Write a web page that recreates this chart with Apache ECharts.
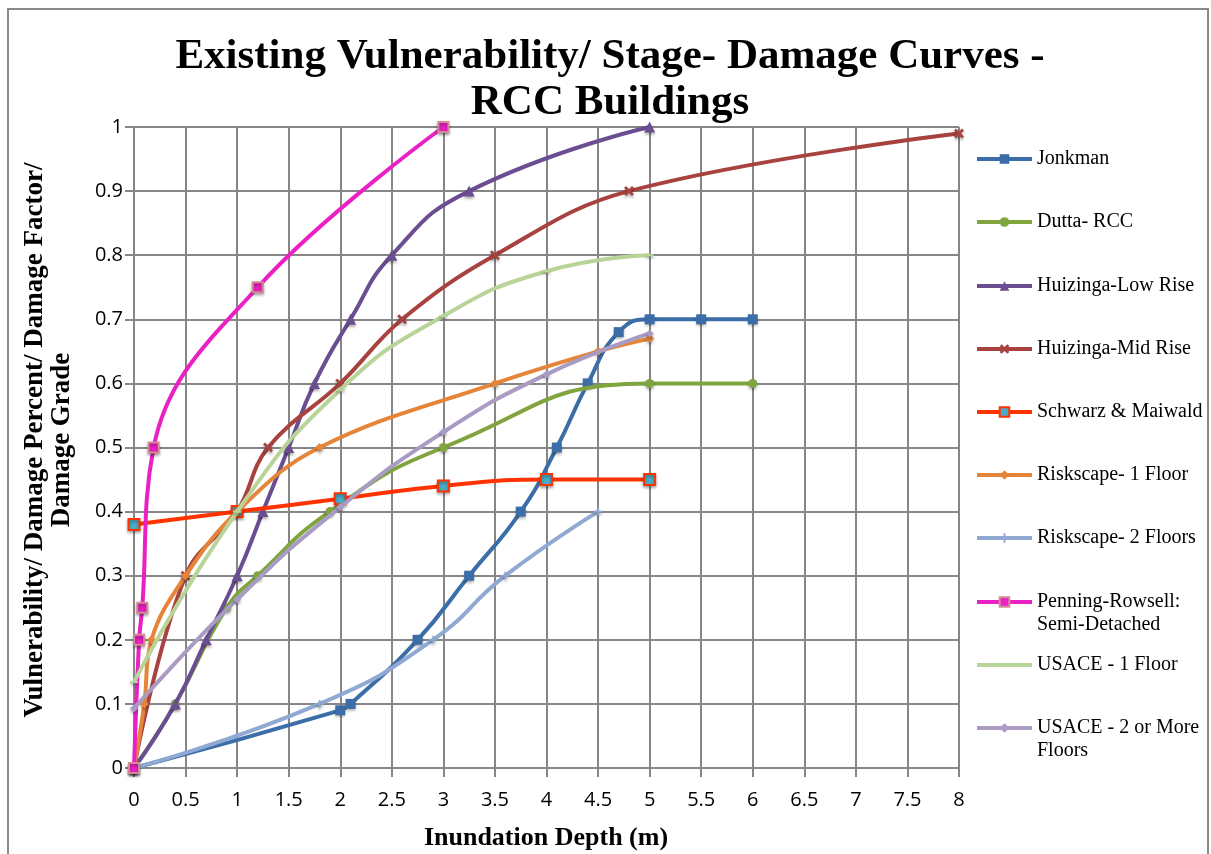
<!DOCTYPE html>
<html>
<head>
<meta charset="utf-8">
<script src="https://cdn.jsdelivr.net/npm/echarts@6/dist/echarts.min.js"></script>
<style>html,body{margin:0;padding:0;background:#fff;}#c{width:1211px;height:854px;}</style>
</head>
<body>
<div id="c"></div>
<script>
// ---- Data (x = inundation depth m, y = damage factor) ----
var seriesNames = ['Jonkman','Dutta- RCC','Huizinga-Low Rise','Huizinga-Mid Rise','Schwarz & Maiwald','Riskscape- 1 Floor','Riskscape- 2 Floors','Penning-Rowsell: Semi-Detached','USACE - 1 Floor','USACE - 2 or More Floors'];
var jonkman = [[0,0],[2,0.09],[2.1,0.1],[2.75,0.2],[3.25,0.3],[3.75,0.4],[4.1,0.5],[4.4,0.6],[4.7,0.68],[5,0.7],[5.5,0.7],[6,0.7]];
var duttaRCC = [[0,0],[0.4,0.1],[0.9,0.25],[1.2,0.3],[1.9,0.4],[3,0.5],[5,0.6],[6,0.6]];
var huizingaLow = [[0,0],[0.4,0.1],[0.7,0.2],[1,0.3],[1.25,0.4],[1.5,0.5],[1.75,0.6],[2.1,0.7],[2.5,0.8],[3.25,0.9],[5,1.0]];
var huizingaMid = [[0,0],[0.5,0.3],[1,0.4],[1.3,0.5],[2,0.6],[2.6,0.7],[3.5,0.8],[4.8,0.9],[8,0.99]];
var schwarz = [[0,0.38],[1,0.4],[2,0.42],[3,0.44],[4,0.45],[5,0.45]];
var riskscape1 = [[0,0],[0.1,0.1],[0.17,0.2],[0.5,0.3],[1,0.4],[1.8,0.5],[3.5,0.6],[4.5,0.65],[5,0.67]];
var riskscape2 = [[0,0],[1.8,0.1],[2.9,0.2],[3.6,0.3],[4.5,0.4]];
var penning = [[0,0],[0.05,0.2],[0.08,0.25],[0.19,0.5],[1.2,0.75],[3,1.0]];
var usace1 = [[0,0.134],[1,0.4],[2,0.59],[3,0.705],[4,0.775],[5,0.8]];
var usace2 = [[0,0.093],[1,0.263],[2,0.407],[3,0.524],[4,0.614],[5,0.678]];
var xTicks = {min:0, max:8, step:0.5};
var yTicks = {min:0, max:1, step:0.1};

var colors = ['#3B6EA8','#80A53E','#6B4E92','#A8423F','#FF3300','#E5853A','#8FA9D2','#EA1FC4','#B8D499','#A99BC3'];
var datasets = [jonkman,duttaRCC,huizingaLow,huizingaMid,schwarz,riskscape1,riskscape2,penning,usace1,usace2];
var symbols = [
  {s:'rect', size:10},
  {s:'circle', size:9},
  {s:'triangle', size:11},
  {s:'path://M2,0L5,3L8,0L10,2L7,5L10,8L8,10L5,7L2,10L0,8L3,5L0,2Z', size:10},
  {s:'rect', size:11},
  {s:'diamond', size:9},
  {s:'path://M4,0H6V4H10V6H6V10H4V6H0V4H4Z', size:8},
  {s:'rect', size:10},
  {s:'rect', size:[8,2]},
  {s:'diamond', size:8}
];
var smoothness = [0.5,0.5,0.5,0.4,0.5,0.4,0.5,0.4,0.5,0.5];

var series = datasets.map(function(d,i){
  var item = {color: colors[i], shadowColor:'rgba(0,0,0,0.35)', shadowBlur:3, shadowOffsetY:2};
  if (i === 4) { item.color = '#4BACC6'; item.borderColor = '#FF3300'; item.borderWidth = 2; }
  if (i === 7) { item.borderColor = '#D48A92'; item.borderWidth = 2; }
  return {
    name: seriesNames[i], type:'line', data: d, smooth: smoothness[i],
    symbol: symbols[i].s, symbolSize: symbols[i].size, showSymbol:true,
    lineStyle:{width:4, color: colors[i]},
    itemStyle: item, z: 2 + i, animation:false
  };
});

var legendY = [157,220,284,347,410,473,536,600,663,726];
var LH = 23;
var legends = seriesNames.map(function(n,i){
  var two = (i === 7 || i === 9);
  var lg = {
    data:[n], orient:'vertical', left:975, top: (two ? legendY[i]-1.5*LH : legendY[i]-LH/2) + 2,
    padding:0, itemWidth:55, itemHeight:12, itemGap:0, selectedMode:false,
    lineStyle:{width:4},
    textStyle:{fontFamily:'Liberation Serif', fontSize:20, color:'#000', lineHeight:LH, padding:[0,0,0,0]},
    formatter: function(name){
      if (name === 'Penning-Rowsell: Semi-Detached') return ' \nPenning-Rowsell:\nSemi-Detached';
      if (name === 'USACE - 2 or More Floors') return ' \nUSACE - 2 or More\nFloors';
      return name;
    }
  };
  if (i === 8) { lg.itemStyle = {opacity:0}; }
  return lg;
});

var chart = echarts.init(document.getElementById('c'));
chart.setOption({
  animation:false,
  backgroundColor:'#fff',
  grid:{left:134, top:127, width:825, height:641, containLabel:false},
  xAxis:{type:'value', min:xTicks.min, max:xTicks.max, interval:xTicks.step,
    axisLine:{show:true, onZero:false, lineStyle:{color:'#868686', width:2}},
    axisTick:{show:true, length:9, lineStyle:{color:'#868686', width:2}},
    axisLabel:{margin:22, fontFamily:'Open Sans', fontSize:20, color:'#000'},
    splitLine:{show:true, lineStyle:{color:'#868686', width:2}}
  },
  yAxis:{type:'value', min:yTicks.min, max:yTicks.max, interval:yTicks.step,
    axisLine:{show:true, lineStyle:{color:'#868686', width:2}},
    axisTick:{show:true, length:9, lineStyle:{color:'#868686', width:2}},
    axisLabel:{margin:11, fontFamily:'Open Sans', fontSize:20, color:'#000'},
    splitLine:{show:true, lineStyle:{color:'#868686', width:2}}
  },
  legend: legends,
  graphic:[
    {type:'rect', shape:{x:8, y:9, width:1200, height:860}, style:{fill:'none', stroke:'#8a8a8a', lineWidth:2}, silent:true, z:-10},
    {type:'text', x:610, y:80, style:{text:'Existing Vulnerability/ Stage- Damage Curves -\nRCC Buildings', textAlign:'center', textVerticalAlign:'middle', font:'bold 43px "Liberation Serif"', lineHeight:46, fill:'#000'}},
    {type:'text', x:546, y:838, style:{text:'Inundation Depth (m)', textAlign:'center', textVerticalAlign:'middle', font:'bold 26px "Liberation Serif"', fill:'#000'}},
    {type:'text', x:49, y:440, rotation:Math.PI/2, style:{text:'Vulnerability/ Damage Percent/ Damage Factor/\nDamage Grade', textAlign:'center', textVerticalAlign:'middle', font:'bold 27px "Liberation Serif"', lineHeight:27, fill:'#000'}}
  ],
  series: series
});
</script>
</body>
</html>
